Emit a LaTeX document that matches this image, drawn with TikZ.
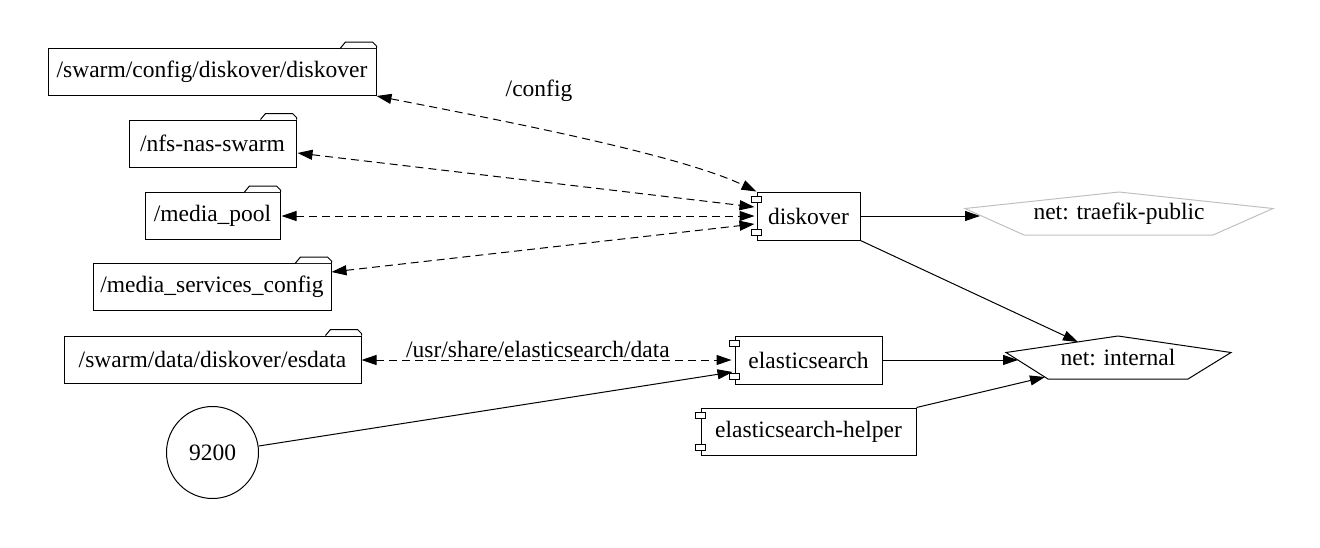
\documentclass[tikz,border=0pt]{standalone}
\usepackage{fontspec}
\setmainfont{Liberation Serif}
\usetikzlibrary{arrows.meta,calc}
\definecolor{netgray}{HTML}{C0C0C0}
\newcommand\foldtab[1]{\draw[line width=1pt, fill=white] ($(#1.north east)+(-36,0)$) -- ++(5,-6) -- ++(27,0) -- ++(4,4) -- (#1.north east);}
\newcommand\compports[1]{%
  \draw[line width=1pt, fill=white] ($(#1.north west)+(-5,5)$) rectangle ++(10,6);
  \draw[line width=1pt, fill=white] ($(#1.south west)+(-5,-11)$) rectangle ++(10,6);}
\begin{document}
\begin{tikzpicture}[x=1pt,y=-1pt,
  every node/.style={font=\fontsize{23.5}{28}\selectfont, inner sep=0pt},
  folder/.style={draw, line width=1pt, minimum height=47pt},
  comp/.style={draw, line width=1pt, minimum height=48pt},
  conn/.style={line width=1pt, -{Triangle[length=15pt,width=10pt]}},
  dconn/.style={line width=1pt, dash pattern=on 8pt off 5pt,
     {Triangle[length=15pt,width=10pt]}-{Triangle[length=15pt,width=10pt]}},
]
\useasboundingbox (0,0) rectangle (1320,547);

% folders
\node[folder, minimum width=328pt] (f1) at (212,72) {/swarm/config/diskover/diskover};
\node[folder, minimum width=167pt] (f2) at (212.5,143.5) {/nfs-nas-swarm};
\node[folder, minimum width=135pt] (f3) at (212.5,216) {/media\_pool};
\node[folder, minimum width=238pt] (f4) at (212,287) {/media\_services\_config};
\node[folder, minimum width=297pt] (f5) at (212.5,359.5) {/swarm/data/diskover/esdata};
\foldtab{f1}\foldtab{f2}\foldtab{f3}\foldtab{f4}\foldtab{f5}

% port circle
\node[circle, draw, line width=1pt, minimum size=92pt] (p9200) at (212.5,452.5) {9200};

% components
\node[comp, minimum width=103pt] (disk) at (808.5,216) {diskover};
\node[comp, minimum width=147pt] (es) at (808.5,360) {elasticsearch};
\node[comp, minimum width=215pt, minimum height=47pt] (helper) at (808.5,431.5) {elasticsearch-helper};
\compports{disk}\compports{es}\compports{helper}

% networks
\node (traefik) at (1119,213.5) {net: traefik-public};
\draw[netgray, line width=1pt] ($(traefik)+(0,-21.5)$) -- ($(traefik)+(154,-5)$) -- ($(traefik)+(94,21.5)$) -- ($(traefik)+(-95,21.5)$) -- ($(traefik)+(-154,-5)$) -- cycle;
\node (internal) at (1118,357.5) {net: internal};
\draw[line width=1pt] ($(internal)+(0,-21.5)$) -- ($(internal)+(113,-5)$) -- ($(internal)+(70,21.5)$) -- ($(internal)+(-70,21.5)$) -- ($(internal)+(-112,-5)$) -- cycle;

% border points on networks
\coordinate (trIn) at ($(traefik)+(-139,2.5)$);
\coordinate (inTop) at ($(internal)+(-40,-15.5)$);
\coordinate (inLeft) at ($(internal)+(-100,2.5)$);
\coordinate (inLow) at ($(internal)+(-73,19.5)$);

% volume edges
\draw[dconn] (f1.south east) .. controls +(123,24) and +(-77,-37) .. (disk.north west);
\node (lcfg) at (539,91) {/config};
\draw[dconn] ($(f2.east)+(1,9.5)$) -- ($(disk.west)+(-2,-9)$);
\draw[dconn] ($(f3.east)+(1,0)$) -- ($(disk.west)+(-2,0)$);
\draw[dconn] ($(f4.east)+(0,-15)$) -- ($(disk.west)+(-2,8)$);
\draw[dconn] ($(f5.east)+(0,0.5)$) -- ($(es.west)+(-3,0)$);
\node (lesd) at (538,349) {/usr/share/elasticsearch/data};

% other edges
\draw[conn] (p9200.8) -- ($(es.west)+(-2,12)$);
\draw[conn] (es.east) -- (inLeft);
\draw[conn] (helper.north east) -- (inLow);
\draw[conn] (disk.south east) -- (inTop);
\draw[conn] (disk.east) -- (trIn);
\end{tikzpicture}
\end{document}
